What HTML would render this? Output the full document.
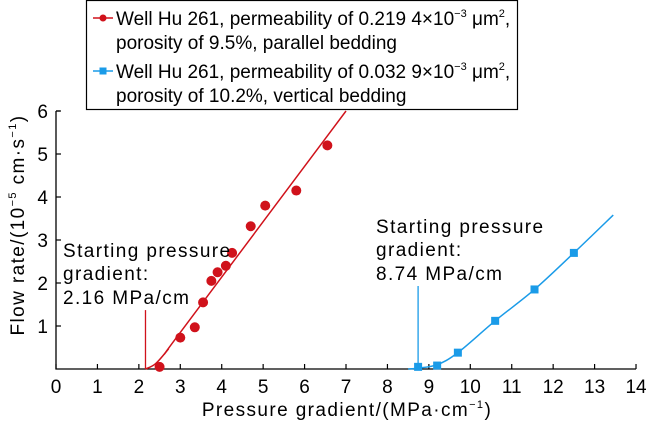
<!DOCTYPE html>
<html><head><meta charset="utf-8"><style>
body{margin:0;background:#fff;}
svg{display:block;font-family:"Liberation Sans",Arial,sans-serif;}
</style></head><body>
<svg id="chart" width="650" height="423" viewBox="0 0 650 423">
<g id="axes"></g>
<g id="marks"></g>
<g>
<rect x="86.5" y="0.5" width="431" height="109" fill="#fff" stroke="#000" stroke-width="1.2"/>
<g>
<line x1="93" y1="18" x2="113" y2="18" stroke="#d0121b" stroke-width="1.5"/><circle cx="103" cy="18" r="3.5" fill="#d0121b"/>
<text x="116" y="25" font-size="19">Well Hu 261, permeability of 0.219 4×10<tspan font-size="11" dy="-8">−3</tspan><tspan dy="8"> μm</tspan><tspan font-size="11" dy="-8">2</tspan><tspan dy="8">,</tspan></text>
<text x="116" y="49" font-size="19">porosity of 9.5%, parallel bedding</text></g>
<g>
<line x1="93" y1="71" x2="113" y2="71" stroke="#1a9be8" stroke-width="1.5"/><rect x="99.5" y="67.5" width="7" height="7" fill="#1a9be8"/>
<text x="116" y="78" font-size="19">Well Hu 261, permeability of 0.032 9×10<tspan font-size="11" dy="-8">−3</tspan><tspan dy="8"> μm</tspan><tspan font-size="11" dy="-8">2</tspan><tspan dy="8">,</tspan></text>
<text x="116" y="102" font-size="19">porosity of 10.2%, vertical bedding</text></g>
</g>
<g font-size="19" letter-spacing="1.4">
<text x="63" y="257">Starting pressure</text><text x="63" y="280">gradient:</text><text x="63" y="304">2.16 MPa/cm</text></g>
<g font-size="19" letter-spacing="1.4">
<text x="376" y="233">Starting pressure</text><text x="376" y="256">gradient:</text><text x="376" y="280">8.74 MPa/cm</text></g>
<text x="347" y="416" font-size="19" letter-spacing="1.4" text-anchor="middle">Pressure gradient/(MPa·cm<tspan font-size="11" dy="-8">−1</tspan><tspan dy="8">)</tspan></text>
<text transform="translate(24,225) rotate(-90)" font-size="19" letter-spacing="1.4" text-anchor="middle">Flow rate/(10<tspan font-size="11" dy="-8">−5</tspan><tspan dy="8"> cm·s</tspan><tspan font-size="11" dy="-8">−1</tspan><tspan dy="8">)</tspan></text>
</svg>
<script>
const xTicks=[0,1,2,3,4,5,6,7,8,9,10,11,12,13,14];
const yTicks=[1,2,3,4,5,6];
const redX=[2.5,3.0,3.35,3.55,3.75,3.9,4.1,4.25,4.7,5.05,5.8,6.55];
const redY=[0.05,0.73,0.97,1.55,2.05,2.25,2.4,2.7,3.32,3.8,4.15,5.2];
const blueX=[8.74,9.2,9.7,10.6,11.55,12.5];
const blueY=[0.05,0.08,0.38,1.12,1.85,2.7];
const redFitX=[2.16,2.4,2.7,3.0,7.0];
const redFitY=[0,0.12,0.45,0.85,6.0];
const blueFitX=[8.5,8.74,9.2,9.7,10.6,11.55,12.5,13.45];
const blueFitY=[0,0.02,0.1,0.38,1.12,1.85,2.7,3.58];
const redStart=2.16, blueStart=8.74, redStartH=1.37, blueStartH=1.93;
const X=v=>56+v*41.43, Y=v=>369-v*43;
const NS="http://www.w3.org/2000/svg";
const axes=document.getElementById('axes'), marks=document.getElementById('marks');
function mk(tag,attrs,parent){const e=document.createElementNS(NS,tag);for(const k in attrs)e.setAttribute(k,attrs[k]);parent.appendChild(e);return e;}
let e=mk('path',{d:`M${X(0)},${Y(6)} H${X(0)+4} M${X(0)},${Y(6)} V${Y(0)} H${X(14)}`,fill:'none',stroke:'#000','stroke-width':1.3},axes);


xTicks.forEach(t=>{
 let l=mk('line',{x1:X(t),x2:X(t),y1:Y(0),y2:Y(0)-5,stroke:'#000','stroke-width':1.2},axes);
 
 
 let tx=mk('text',{x:X(t),y:Y(0)+24,'font-size':19,'text-anchor':'middle'},axes);tx.textContent=t;
 
 
});
yTicks.forEach(t=>{
 let l=mk('line',{x1:X(0),x2:X(0)+5,y1:Y(t),y2:Y(t),stroke:'#000','stroke-width':1.2},axes);
 
 
 let tx=mk('text',{x:X(0)-8,y:Y(t)+7,'font-size':19,'text-anchor':'end'},axes);tx.textContent=t;
 
 
});
function curve(xs,ys){let d='M'+X(xs[0])+','+Y(ys[0]);const p=xs.map((x,i)=>[X(x),Y(ys[i])]);
 for(let i=0;i<p.length-1;i++){const p0=p[i-1]||p[i],p1=p[i],p2=p[i+1],p3=p[i+2]||p2;
 d+=` C${p1[0]+(p2[0]-p0[0])/6},${p1[1]+(p2[1]-p0[1])/6} ${p2[0]-(p3[0]-p1[0])/6},${p2[1]-(p3[1]-p1[1])/6} ${p2[0]},${p2[1]}`;}return d;}
e=mk('path',{d:curve(redFitX,redFitY),fill:'none',stroke:'#d0121b','stroke-width':1.5},marks);


e=mk('path',{d:curve(blueFitX,blueFitY),fill:'none',stroke:'#1a9be8','stroke-width':1.5},marks);


e=mk('line',{x1:X(redStart),x2:X(redStart),y1:Y(0),y2:Y(redStartH),stroke:'#d0121b','stroke-width':1.3},marks);


e=mk('line',{x1:X(blueStart),x2:X(blueStart),y1:Y(0),y2:Y(blueStartH),stroke:'#1a9be8','stroke-width':1.3},marks);


redX.forEach((x,i)=>{let c=mk('circle',{cx:X(x),cy:Y(redY[i]),r:5,fill:'#d0121b'},marks);
 
 });
blueX.forEach((x,i)=>{let r=mk('rect',{x:X(x)-4,y:Y(blueY[i])-4,width:8,height:8,fill:'#1a9be8'},marks);
 
 });
</script>
</body></html>
